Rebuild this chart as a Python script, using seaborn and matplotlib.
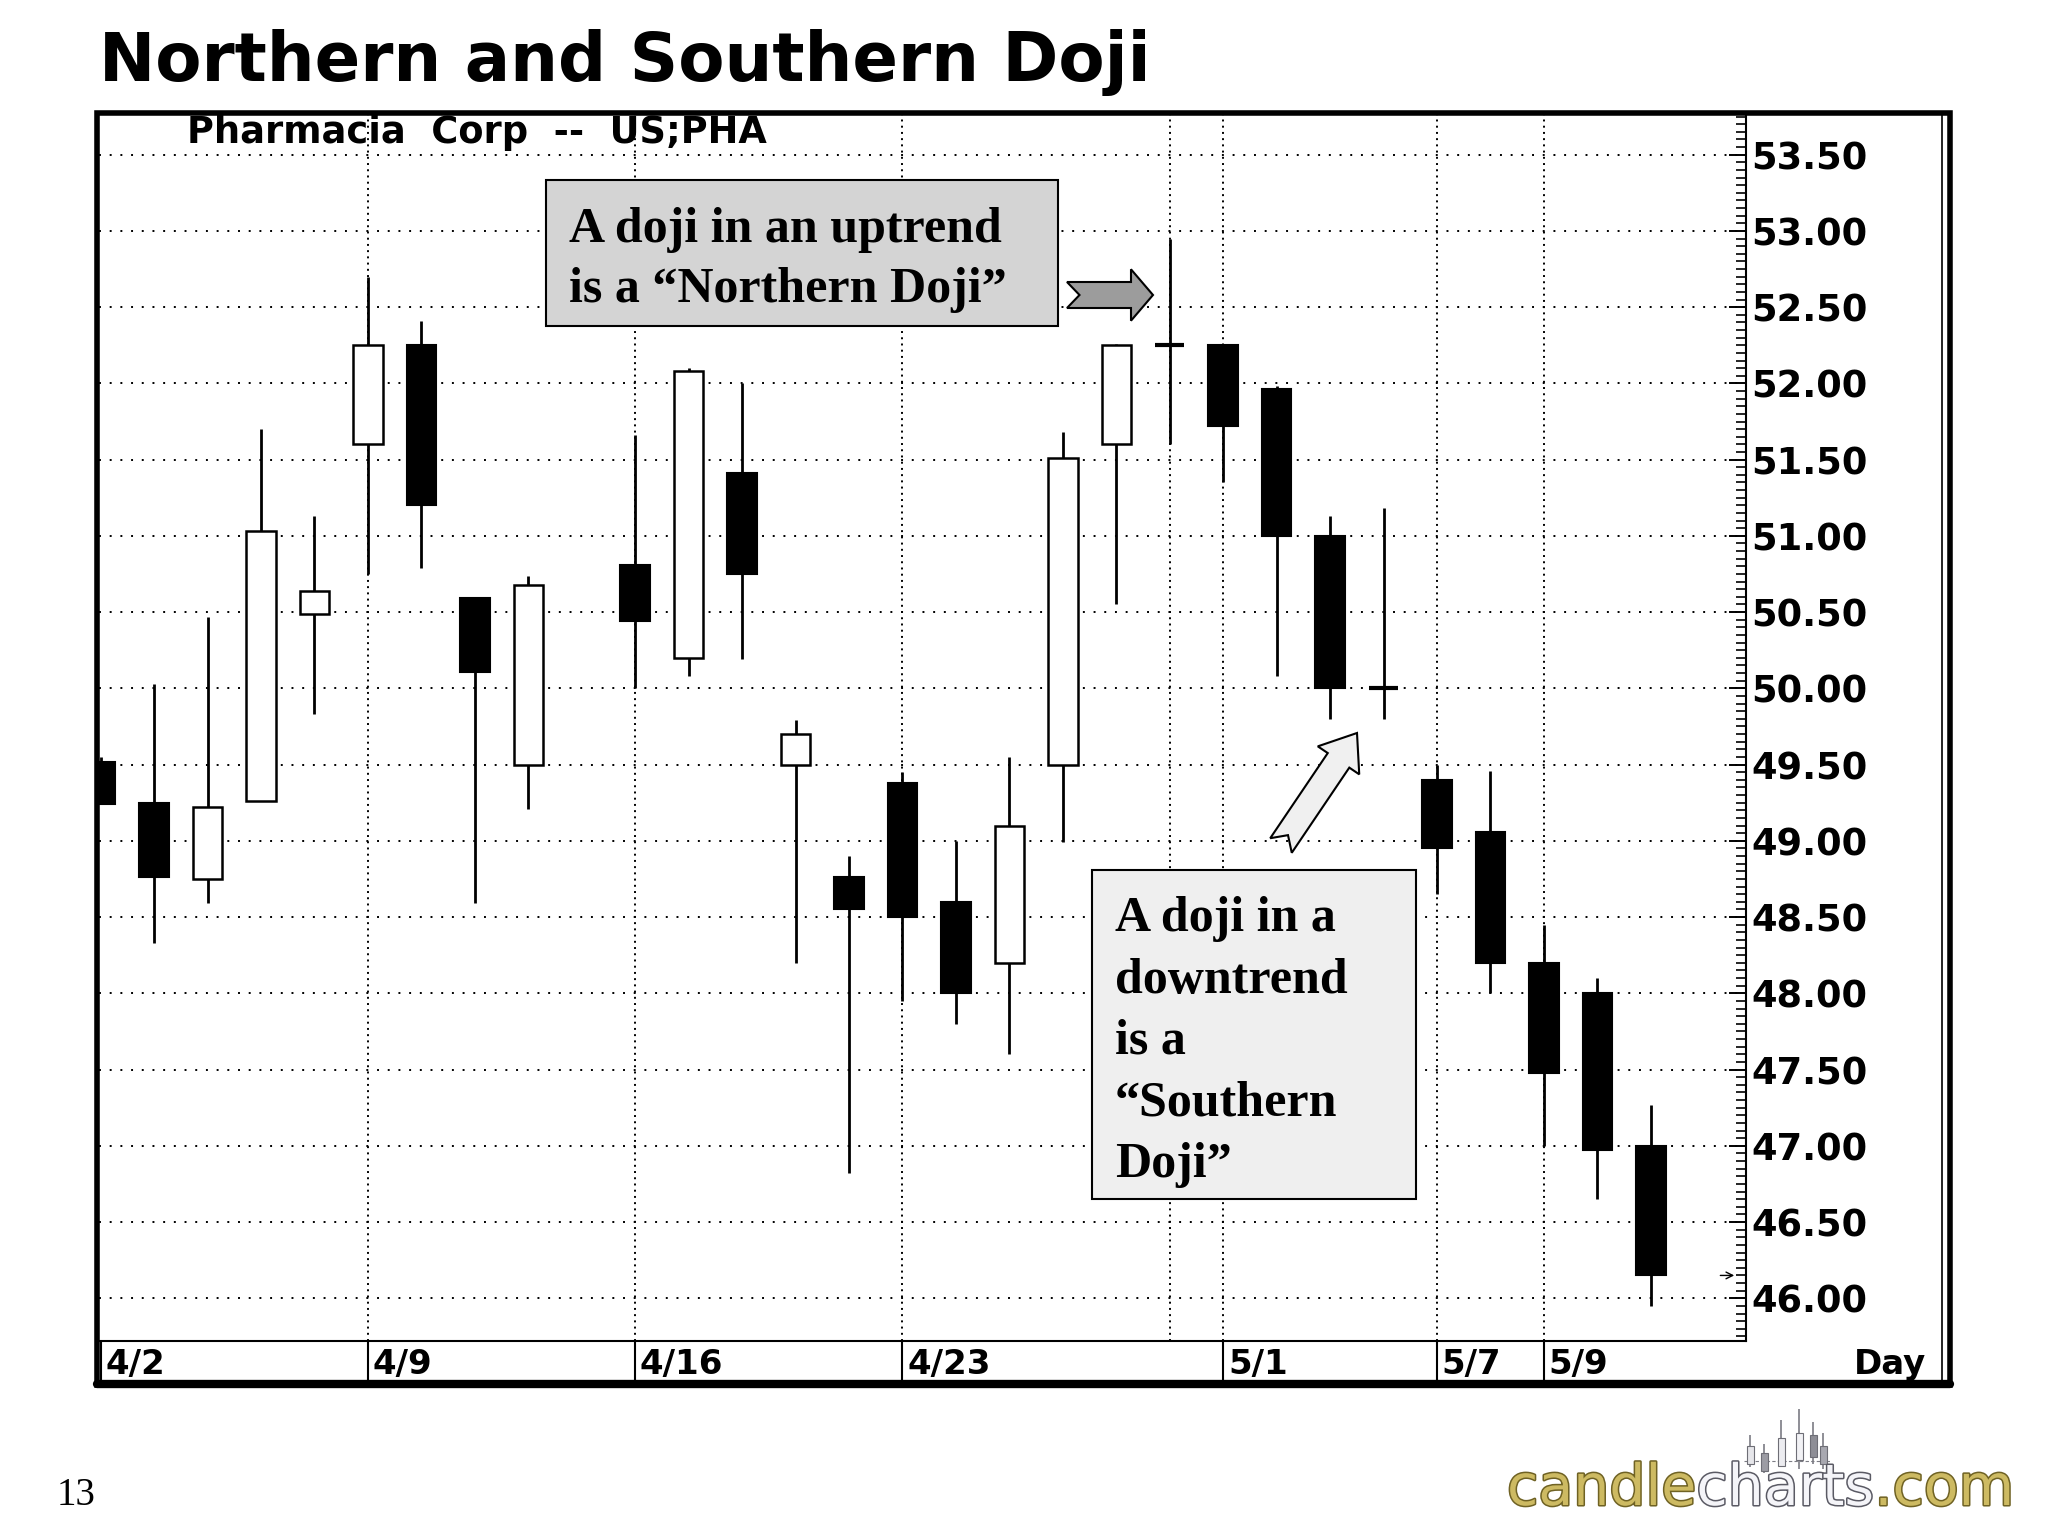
"""Northern and Southern Doji - Pharmacia Corp daily candlesticks."""
import matplotlib

matplotlib.use("Agg")
import matplotlib.pyplot as plt  # noqa: E402
import matplotlib.patheffects as pe  # noqa: E402
import matplotlib.transforms as mtrans  # noqa: E402
import numpy as np  # noqa: E402
import pandas as pd  # noqa: E402
import seaborn as sns  # noqa: E402
from matplotlib.lines import Line2D  # noqa: E402
from matplotlib.patches import Polygon, Rectangle  # noqa: E402
from matplotlib.ticker import FormatStrFormatter, MultipleLocator  # noqa: E402

# --------------------------------------------------------------------------- data
# trading-day slot (slot 9 has no bar on the chart)
day_slot = [0, 1, 2, 3, 4, 5, 6, 7, 8, 10, 11, 12, 13, 14, 15, 16, 17, 18, 19,
            20, 21, 22, 23, 24, 25, 26, 27, 28, 29]
open_px = [49.52, 49.25, 48.75, 49.26, 50.49, 51.60, 52.25, 50.59, 49.50, 50.81,
           50.20, 51.41, 49.50, 48.76, 49.38, 48.60, 48.20, 49.50, 51.60, 52.25,
           52.25, 51.96, 51.00, 50.00, 49.40, 49.06, 48.20, 48.00, 47.00]
high_px = [49.55, 50.03, 50.47, 51.70, 51.13, 52.70, 52.41, 50.60, 50.74, 51.66,
           52.10, 52.00, 49.79, 48.90, 49.45, 49.00, 49.55, 51.68, 52.26, 52.95,
           52.26, 51.98, 51.13, 51.18, 49.50, 49.46, 48.45, 48.10, 47.27]
low_px = [49.24, 48.33, 48.59, 49.26, 49.83, 50.75, 50.79, 48.59, 49.21, 50.00,
          50.08, 50.19, 48.20, 46.82, 47.95, 47.80, 47.60, 48.99, 50.55, 51.60,
          51.35, 50.08, 49.80, 49.80, 48.65, 48.00, 47.00, 46.65, 45.95]
close_px = [49.24, 48.76, 49.22, 51.03, 50.64, 52.25, 51.20, 50.11, 50.68, 50.44,
            52.08, 50.75, 49.70, 48.55, 48.50, 48.00, 49.10, 51.51, 52.25, 52.25,
            51.72, 51.00, 50.00, 50.00, 48.95, 48.20, 47.48, 46.97, 46.15]

date_slots = [0, 5, 10, 15, 21, 25, 27]
date_labels = ["4/2", "4/9", "4/16", "4/23", "5/1", "5/7", "5/9"]
grid_slots = [5, 10, 15, 20, 21, 25, 27]

# little candles of the candlecharts.com logo (pixel heights)
logo_x = [0, 14, 31, 49, 63, 73]
logo_high = [36, 27, 51, 62, 49, 38]
logo_low = [3.6, -1.8, 3.6, 1.8, 7.2, 1.8]
logo_top = [25, 18, 33, 38, 36, 25]
logo_bot = [7, 0, 5, 11, 14.5, 7]
logo_fill = ["#e6e6ea", "#9c9ca4", "#ececf0", "#f2f2f5", "#8e8e96", "#a8a8b0"]

df = pd.DataFrame({"slot": day_slot, "open": open_px, "high": high_px,
                   "low": low_px, "close": close_px})

# --------------------------------------------------------------------------- figure
sns.set_theme(style="white")
plt.rcParams["font.family"] = ["DejaVu Sans"]
plt.rcParams["text.color"] = "black"
plt.rcParams["ytick.color"] = "black"
plt.rcParams["xtick.color"] = "black"
SERIF = ["Liberation Serif", "DejaVu Serif"]

W, H = 2048, 1536
fig = plt.figure(figsize=(W / 100, H / 100), dpi=100, facecolor="white")

ax_l, ax_r, ax_t, ax_b = 99, 1746, 115, 1341          # image pixels
ax = fig.add_axes([ax_l / W, 1 - ax_b / H, (ax_r - ax_l) / W, (ax_b - ax_t) / H])
ax.set_facecolor("white")
ax.set_xlim(-0.03, 30.78)
ax.set_ylim(45.72, 53.76)

# grid
ax.set_xticks(grid_slots)
ax.tick_params(axis="x", length=0, labelbottom=False)
ax.grid(axis="x", color="black", lw=1.4, ls=(0, (1, 2.2)))
ax.yaxis.tick_right()
ax.yaxis.set_major_locator(MultipleLocator(0.5))
ax.yaxis.set_minor_locator(MultipleLocator(0.05))
ax.yaxis.set_major_formatter(FormatStrFormatter("%.2f"))
ax.grid(axis="y", which="major", color="black", lw=1.4, ls=(0, (1, 4.5)))
ax.tick_params(axis="y", which="major", direction="in", length=12, width=1.4,
               labelsize=26.5, pad=4, colors="black", labelcolor="black")
ax.tick_params(axis="y", which="minor", direction="in", length=7, width=1.2,
               colors="black", right=True, left=False)
for lbl in ax.get_yticklabels():
    lbl.set_fontweight("bold")

for side in ["left", "top"]:
    ax.spines[side].set_visible(False)
for side in ["bottom", "right"]:
    ax.spines[side].set_color("black")
    ax.spines[side].set_linewidth(1.5)

# candles
BW = 0.55
up = df[df["close"] > df["open"]]
dn = df[df["close"] < df["open"]]
dj = df[df["close"] == df["open"]]
ax.vlines(df["slot"], df["low"], df["high"], color="black", lw=2, zorder=3)
ax.bar(up["slot"], up["close"] - up["open"], bottom=up["open"], width=BW,
       color="white", edgecolor="black", linewidth=1.8, zorder=4)
ax.bar(dn["slot"], dn["open"] - dn["close"], bottom=dn["close"], width=BW,
       color="black", edgecolor="black", linewidth=1.5, zorder=4)
ax.hlines(dj["close"], dj["slot"] - BW / 2, dj["slot"] + BW / 2, color="black",
          lw=3, zorder=4)

# last-price marker
ax.annotate("", xy=(30.56, close_px[-1]), xytext=(30.3, close_px[-1]),
            arrowprops=dict(arrowstyle="->", lw=1.0, color="black",
                            shrinkA=0, shrinkB=0),
            annotation_clip=False)

ax.text(187 / W, 1 - 143 / H, "Pharmacia  Corp  --  US;PHA", transform=fig.transFigure,
        fontsize=26.5, fontweight="bold", va="baseline", ha="left", color="black")

# date strip
strip = mtrans.blended_transform_factory(ax.transData, fig.transFigure)
for s, lab in zip(date_slots, date_labels):
    fig.add_artist(Line2D([s, s], [1 - ax_b / H, 1 - 1384 / H], transform=strip,
                          color="black", lw=1.5))
    fig.text(s + 0.09, 1 - 1374 / H, lab, transform=strip, fontsize=24.5,
             fontweight="bold", va="baseline", ha="left", color="black")
fig.text(1926 / W, 1 - 1374 / H, "Day", fontsize=24.5, fontweight="bold",
         va="baseline", ha="right", color="black")

# outer frame
fig.add_artist(Rectangle((97 / W, 1 - 1385 / H), (1950 - 97) / W, (1385 - 113) / H,
                         transform=fig.transFigure, fill=False, ec="black", lw=4))
fig.add_artist(Line2D([97 / W, 1950 / W], [1 - 1384 / H] * 2,
                      transform=fig.transFigure, color="black", lw=6))
fig.add_artist(Line2D([1942 / W] * 2, [1 - 113 / H, 1 - 1385 / H],
                      transform=fig.transFigure, color="black", lw=1.2))

# title
fig.text(99 / W, 1 - 81 / H, "Northern and Southern Doji", fontsize=48.5,
         fontweight="bold", va="baseline", ha="left", color="black")


# annotation boxes and arrows
def add_box(x0, y0, x1, y1, fc):
    fig.add_artist(Rectangle((x0 / W, 1 - y1 / H), (x1 - x0) / W, (y1 - y0) / H,
                             transform=fig.transFigure, fc=fc, ec="black", lw=1.5,
                             zorder=5))


def add_block_arrow(tail, tip, head_len, fc, head_half=25.5, shaft_half=13, notch=12.5):
    t = np.array([tail[0], H - tail[1]], float)
    p = np.array([tip[0], H - tip[1]], float)
    u = (p - t) / np.linalg.norm(p - t)
    n = np.array([-u[1], u[0]])
    L = np.linalg.norm(p - t)
    local = [(0, shaft_half), (L - head_len, shaft_half), (L - head_len, head_half),
             (L, 0), (L - head_len, -head_half), (L - head_len, -shaft_half),
             (0, -shaft_half), (notch, 0)]
    pts = np.array([t + s * u + q * n for s, q in local])
    pts[:, 0] /= W
    pts[:, 1] /= H
    fig.add_artist(Polygon(pts, closed=True, transform=fig.transFigure, fc=fc,
                           ec="black", lw=1.5, zorder=5))


add_box(546, 180, 1058, 326, "#d4d4d4")
for txt, base in [("A doji in an uptrend", 242), ("is a \u201cNorthern Doji\u201d", 302)]:
    fig.text(569 / W, 1 - base / H, txt, family=SERIF, fontsize=36,
             fontweight="bold", va="baseline", ha="left", color="black", zorder=6)
add_block_arrow((1067, 295), (1153, 295), 22, "#9c9c9c", head_half=25.7)

add_box(1092, 870, 1416, 1199, "#efefef")
for txt, base in [("A doji in a", 931), ("downtrend", 993), ("is a", 1054),
                  ("\u201cSouthern", 1115), ("Doji\u201d", 1177)]:
    fig.text(1115 / W, 1 - base / H, txt, family=SERIF, fontsize=36,
             fontweight="bold", va="baseline", ha="left", color="black", zorder=6)
add_block_arrow((1281, 845.5), (1357, 733), 33, "#f0f0f0", head_half=25)

# page number
fig.text(57 / W, 1 - 1505 / H, "13", family=SERIF, fontsize=28, va="baseline",
         ha="left", color="black")

# logo: candles + text
lax = fig.add_axes([1744 / W, (H - 1471 - 4) / H, 86 / W, 68 / H], zorder=1)
lax.set_xlim(-6, 80)
lax.set_ylim(-4, 64)
lax.axis("off")
lax.vlines(logo_x, logo_low, logo_high, color="#7c7c84", lw=1.2)
lax.bar(logo_x, np.subtract(logo_top, logo_bot), bottom=logo_bot, width=7,
        color=logo_fill, edgecolor="#6e6e76", linewidth=0.8, zorder=3)
lax.axhline(10, color="#7c7c84", lw=0.8, ls=(0, (3, 2)))

renderer = fig.canvas.get_renderer()
x = 1507
for piece, fc, ec in [("candle", "#cdba62", "#6f6224"),
                      ("charts", "#f4f4f8", "#5a5a64"),
                      (".com", "#cdba62", "#6f6224")]:
    t = fig.text(x / W, 1 - 1505 / H, piece, fontsize=41, color=fc, va="baseline",
                 ha="left", zorder=3,
                 path_effects=[pe.withStroke(linewidth=2.2, foreground=ec)])
    x = t.get_window_extent(renderer).x1

fig.savefig("out.png", dpi=100, facecolor="white")
